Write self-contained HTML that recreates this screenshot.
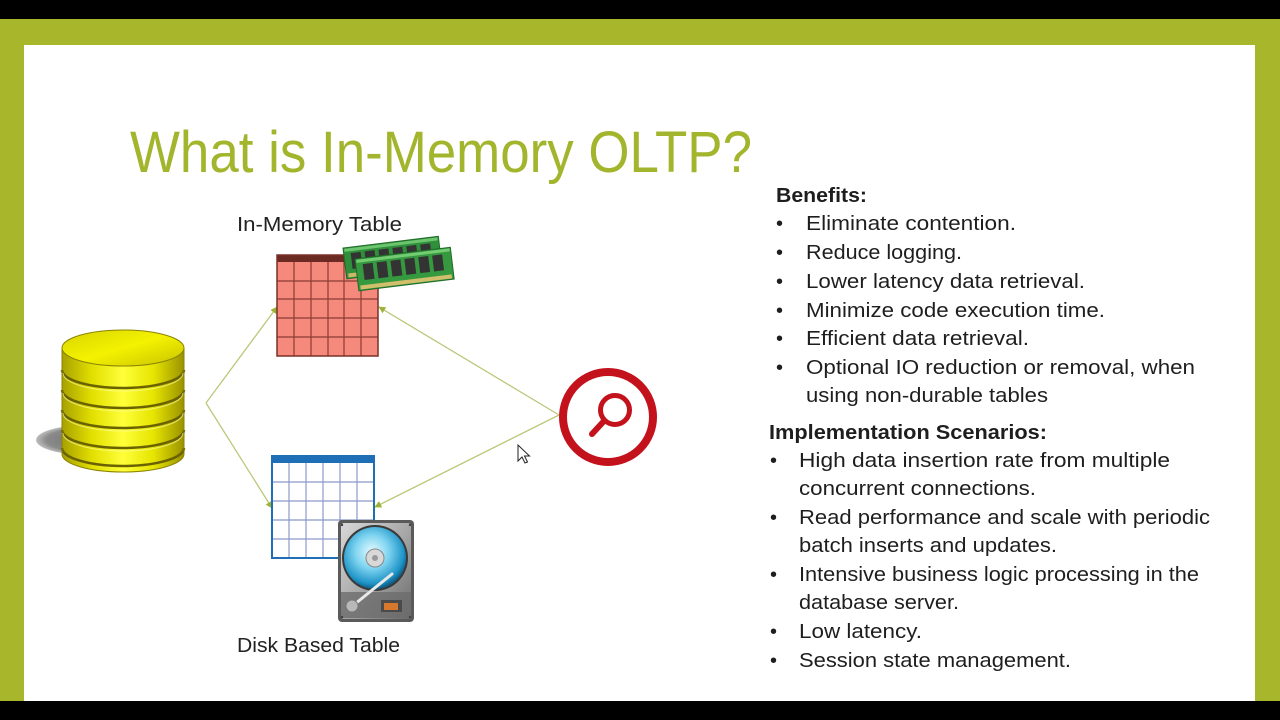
<!DOCTYPE html>
<html><head><meta charset="utf-8"><style>
html,body{margin:0;padding:0;background:#000;}
svg{display:block;}
text{font-family:"Liberation Sans",sans-serif;}
</style></head><body>
<svg width="1280" height="720" viewBox="0 0 1280 720" xmlns="http://www.w3.org/2000/svg">
<defs>
<linearGradient id="cyl" x1="0" y1="0" x2="1" y2="0">
<stop offset="0" stop-color="#a8a000"/>
<stop offset="0.25" stop-color="#e2e000"/>
<stop offset="0.5" stop-color="#ffff3a"/>
<stop offset="0.75" stop-color="#e6e400"/>
<stop offset="1" stop-color="#9a9200"/>
</linearGradient>
<linearGradient id="cyltop" x1="0" y1="0" x2="1" y2="1">
<stop offset="0" stop-color="#d8d400"/>
<stop offset="0.5" stop-color="#f4f200"/>
<stop offset="1" stop-color="#c8c200"/>
</linearGradient>
<radialGradient id="shadow" cx="0.5" cy="0.5" r="0.5">
<stop offset="0" stop-color="#6e6e6e"/>
<stop offset="0.8" stop-color="#8a8a8a"/>
<stop offset="1" stop-color="#bdbdbd"/>
</radialGradient>
<linearGradient id="hdd" x1="0" y1="0" x2="1" y2="1">
<stop offset="0" stop-color="#d8d8d8"/>
<stop offset="0.5" stop-color="#a8a8a8"/>
<stop offset="1" stop-color="#6a6a6a"/>
</linearGradient>
<radialGradient id="disc" cx="0.45" cy="0.4" r="0.6">
<stop offset="0" stop-color="#e6fbff"/>
<stop offset="0.45" stop-color="#7fd4f0"/>
<stop offset="0.85" stop-color="#1f95c8"/>
<stop offset="1" stop-color="#0d5d86"/>
</radialGradient>
<marker id="ah" viewBox="0 0 10 10" refX="9" refY="5" markerWidth="7" markerHeight="7" orient="auto" markerUnits="userSpaceOnUse">
<path d="M0,0 L10,5 L0,10 z" fill="#9db235"/>
</marker>
</defs>

<!-- frame -->
<rect x="0" y="0" width="1280" height="720" fill="#000"/>
<rect x="0" y="19" width="1280" height="682" fill="#a8b62b"/>
<rect x="24" y="45" width="1231" height="656" fill="#ffffff"/>

<!-- title -->
<text x="130" y="172" font-size="58" fill="#a2b52d" textLength="622" lengthAdjust="spacingAndGlyphs">What is In-Memory OLTP?</text>

<!-- connectors -->
<g stroke="#bcc77a" stroke-width="1.3" fill="none">
<line x1="206" y1="403" x2="277" y2="307" marker-end="url(#ah)"/>
<line x1="206" y1="403" x2="272" y2="508" marker-end="url(#ah)"/>
<line x1="559" y1="415" x2="379" y2="307" marker-end="url(#ah)"/>
<line x1="559" y1="415" x2="375" y2="507" marker-end="url(#ah)"/>
</g>

<!-- database cylinder -->
<ellipse cx="88" cy="440" rx="52" ry="15" fill="url(#shadow)"/>
<path d="M62,348 L62,454 A61,18 0 0 0 184,454 L184,348 Z" fill="url(#cyl)"/>
<g fill="none" stroke="#6a6200" stroke-width="2.5">
<path d="M62,370 A61,18 0 0 0 184,370"/>
<path d="M62,390 A61,18 0 0 0 184,390"/>
<path d="M62,410 A61,18 0 0 0 184,410"/>
<path d="M62,430 A61,18 0 0 0 184,430"/>
<path d="M62,448 A61,18 0 0 0 184,448"/>
</g>
<g fill="none" stroke="#fbfb90" stroke-width="1" opacity="0.7">
<path d="M63,373 A60,18 0 0 0 183,373"/>
<path d="M63,393 A60,18 0 0 0 183,393"/>
<path d="M63,413 A60,18 0 0 0 183,413"/>
<path d="M63,433 A60,18 0 0 0 183,433"/>
</g>
<path d="M62,348 L62,454 A61,18 0 0 0 184,454 L184,348" fill="none" stroke="#8a8200" stroke-width="1"/>
<ellipse cx="123" cy="348" rx="61" ry="18" fill="url(#cyltop)" stroke="#8a8400" stroke-width="1"/>

<!-- In-memory table (pink) -->
<text x="237" y="231" font-size="20" fill="#222" textLength="165" lengthAdjust="spacingAndGlyphs">In-Memory Table</text>
<rect x="277" y="255" width="101" height="101" fill="#f5897c"/>
<rect x="277" y="255" width="101" height="7" fill="#6b2a22"/>
<g stroke="#8c3b33" stroke-width="1.2">
<line x1="294" y1="262" x2="294" y2="356"/>
<line x1="311" y1="262" x2="311" y2="356"/>
<line x1="328" y1="262" x2="328" y2="356"/>
<line x1="344" y1="262" x2="344" y2="356"/>
<line x1="361" y1="262" x2="361" y2="356"/>
<line x1="277" y1="281" x2="378" y2="281"/>
<line x1="277" y1="299" x2="378" y2="299"/>
<line x1="277" y1="318" x2="378" y2="318"/>
<line x1="277" y1="337" x2="378" y2="337"/>
</g>
<rect x="277" y="255" width="101" height="101" fill="none" stroke="#7a3028" stroke-width="1.5"/>

<!-- RAM sticks -->
<g transform="translate(343,248) rotate(-7)">
<rect x="0" y="0" width="96" height="31" fill="#2f8f3a" stroke="#1f6a28" stroke-width="1"/>
<rect x="1" y="1" width="94" height="3" fill="#6cc46e"/>
<g fill="#333">
<rect x="7" y="6" width="10" height="16"/><rect x="21" y="6" width="10" height="16"/><rect x="35" y="6" width="10" height="16"/><rect x="49" y="6" width="10" height="16"/><rect x="63" y="6" width="10" height="16"/><rect x="77" y="6" width="10" height="16"/>
</g>
<rect x="2" y="26" width="92" height="4" fill="#cdb868"/>
</g>
<g transform="translate(355,259) rotate(-7)">
<rect x="0" y="0" width="96" height="32" fill="#35993f" stroke="#1f6a28" stroke-width="1"/>
<rect x="1" y="1" width="94" height="3" fill="#74cc72"/>
<g fill="#333">
<rect x="7" y="6" width="10" height="16"/><rect x="21" y="6" width="10" height="16"/><rect x="35" y="6" width="10" height="16"/><rect x="49" y="6" width="10" height="16"/><rect x="63" y="6" width="10" height="16"/><rect x="77" y="6" width="10" height="16"/>
</g>
<rect x="2" y="27" width="92" height="4" fill="#d2bf6c"/>
</g>

<!-- Disk based table (blue) -->
<rect x="272" y="456" width="102" height="102" fill="#ffffff"/>
<g stroke="#8a9acb" stroke-width="1.2">
<line x1="289" y1="463" x2="289" y2="558"/>
<line x1="306" y1="463" x2="306" y2="558"/>
<line x1="323" y1="463" x2="323" y2="558"/>
<line x1="340" y1="463" x2="340" y2="558"/>
<line x1="357" y1="463" x2="357" y2="558"/>
<line x1="272" y1="482" x2="374" y2="482"/>
<line x1="272" y1="501" x2="374" y2="501"/>
<line x1="272" y1="520" x2="374" y2="520"/>
<line x1="272" y1="539" x2="374" y2="539"/>
</g>
<rect x="272" y="456" width="102" height="7" fill="#1e6fb5"/>
<rect x="272" y="456" width="102" height="102" fill="none" stroke="#1e6fb5" stroke-width="2"/>

<!-- HDD -->
<rect x="338" y="520" width="76" height="102" rx="4" fill="#5a5a5a"/>
<rect x="341" y="523" width="70" height="96" rx="3" fill="url(#hdd)"/>
<circle cx="375" cy="558" r="33" fill="#3a3a3a"/>
<circle cx="375" cy="558" r="31" fill="url(#disc)"/>
<circle cx="375" cy="558" r="9" fill="#d8d8d8" stroke="#888" stroke-width="1"/>
<circle cx="375" cy="558" r="3" fill="#999"/>
<rect x="341" y="592" width="70" height="26" fill="#6d6d6d" opacity="0.8"/>
<path d="M350,608 L392,574" stroke="#e8e8e8" stroke-width="3" stroke-linecap="round"/>
<circle cx="352" cy="606" r="6" fill="#b8b8b8" stroke="#777" stroke-width="1"/>
<rect x="381" y="600" width="21" height="12" fill="#4a4a4a"/>
<rect x="384" y="603" width="14" height="7" fill="#d8782c"/>
<g fill="#444"><circle cx="342" cy="525" r="1.2"/><circle cx="410" cy="525" r="1.2"/><circle cx="342" cy="617" r="1.2"/><circle cx="410" cy="617" r="1.2"/></g>
<text x="237" y="652" font-size="20" fill="#222" textLength="163" lengthAdjust="spacingAndGlyphs">Disk Based Table</text>

<!-- magnifier icon -->
<circle cx="608" cy="417" r="45" fill="#ffffff" stroke="#c3121c" stroke-width="8"/>
<circle cx="615" cy="410" r="14.5" fill="none" stroke="#c3121c" stroke-width="5"/>
<line x1="604" y1="421" x2="592" y2="434" stroke="#c3121c" stroke-width="6" stroke-linecap="round"/>

<!-- cursor -->
<path d="M518,445 L518,461 L522,457 L525,463 L527.5,462 L524.5,456 L529.5,456 Z" fill="#fff" stroke="#222" stroke-width="1"/>

<!-- right text -->
<g font-size="20" fill="#1e1e1e">
<text x="776" y="202" font-weight="bold" textLength="91" lengthAdjust="spacingAndGlyphs">Benefits:</text>
<text x="776" y="230">•</text>
<text x="806" y="230" textLength="210" lengthAdjust="spacingAndGlyphs">Eliminate contention.</text>
<text x="776" y="259">•</text>
<text x="806" y="259" textLength="156" lengthAdjust="spacingAndGlyphs">Reduce logging.</text>
<text x="776" y="288">•</text>
<text x="806" y="288" textLength="279" lengthAdjust="spacingAndGlyphs">Lower latency data retrieval.</text>
<text x="776" y="317">•</text>
<text x="806" y="317" textLength="299" lengthAdjust="spacingAndGlyphs">Minimize code execution time.</text>
<text x="776" y="345">•</text>
<text x="806" y="345" textLength="223" lengthAdjust="spacingAndGlyphs">Efficient data retrieval.</text>
<text x="776" y="374">•</text>
<text x="806" y="374" textLength="389" lengthAdjust="spacingAndGlyphs">Optional IO reduction or removal, when</text>
<text x="806" y="402" textLength="242" lengthAdjust="spacingAndGlyphs">using non-durable tables</text>

<text x="769" y="439" font-weight="bold" textLength="278" lengthAdjust="spacingAndGlyphs">Implementation Scenarios:</text>
<text x="770" y="467">•</text>
<text x="799" y="467" textLength="371" lengthAdjust="spacingAndGlyphs">High data insertion rate from multiple</text>
<text x="799" y="495" textLength="237" lengthAdjust="spacingAndGlyphs">concurrent connections.</text>
<text x="770" y="524">•</text>
<text x="799" y="524" textLength="411" lengthAdjust="spacingAndGlyphs">Read performance and scale with periodic</text>
<text x="799" y="552" textLength="258" lengthAdjust="spacingAndGlyphs">batch inserts and updates.</text>
<text x="770" y="581">•</text>
<text x="799" y="581" textLength="400" lengthAdjust="spacingAndGlyphs">Intensive business logic processing in the</text>
<text x="799" y="609" textLength="160" lengthAdjust="spacingAndGlyphs">database server.</text>
<text x="770" y="638">•</text>
<text x="799" y="638" textLength="123" lengthAdjust="spacingAndGlyphs">Low latency.</text>
<text x="770" y="667">•</text>
<text x="799" y="667" textLength="272" lengthAdjust="spacingAndGlyphs">Session state management.</text>
</g>
</svg>
</body></html>
